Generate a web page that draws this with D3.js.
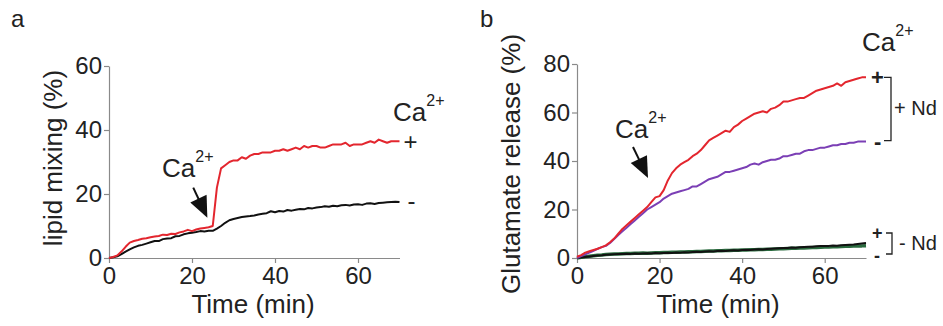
<!DOCTYPE html>
<html>
<head>
<meta charset="utf-8">
<script src="https://cdn.jsdelivr.net/npm/d3@7"></script>
<style>
  body { margin: 0; background: #fff; }
  svg { display: block; font-family: "Liberation Sans", Arial, sans-serif; }
  .axis path, .axis line { stroke: #8a8a8a; stroke-width: 1.2; }
  .axis text { fill: #222; font-size: 24px; }
  .lbl { fill: #222; }
</style>
</head>
<body>
<div id="chart"></div>
<script>
// sample times (min)
const timeMin = d3.range(0, 71);

const xTicks = [0, 20, 40, 60];
const yTicksA = [0, 20, 40, 60];
const yTicksB = [0, 20, 40, 60, 80];

// panel a: lipid mixing (%)
const lipidCaPlus = [
  0, 0.3, 0.8, 2, 3.5, 4.8, 5.3, 5.6, 6, 6.2,
  6.5, 6.7, 6.9, 7.3, 7.2, 7.6, 7.5, 8, 8.3, 8.8,
  8.4, 8.9, 9.2, 9.4, 9.6, 10, 22, 28, 29, 30,
  30.5, 30.5, 31.5, 31, 32, 32.5, 32.5, 33, 33, 33,
  33.5, 33.5, 34, 33.5, 34, 34.5, 34, 35, 34.5, 35,
  35, 34.5, 34.5, 35, 35.5, 35.5, 35.5, 36, 35, 35.5,
  35.5, 35.5, 36, 36.5, 36, 37, 36.5, 36, 36.5, 36.5,
  36.5
];
const lipidCaMinus = [
  0, 0.2, 0.5, 1.2, 2, 2.7, 3.3, 3.8, 4.1, 4.5,
  4.9, 5.3, 5.3, 5.9, 6.1, 6.2, 6.8, 6.9, 7.4, 7.7,
  7.9, 8.1, 8.4, 8.3, 8.5, 8.5, 9.2, 10, 11, 11.8,
  12.2, 12.5, 12.8, 13, 13.1, 13.3, 13.6, 13.8, 14, 14.6,
  14.3, 14.7, 14.5, 15, 14.8, 15.1, 15.3, 15.2, 15.6, 15.5,
  15.8, 15.9, 16.2, 16, 16.3, 16.2, 16.5, 16.6, 16.4, 16.7,
  16.8, 16.6, 17, 17.1, 16.9, 17.2, 17.3, 17.4, 17.5, 17.6,
  17.5
];

// panel b: glutamate release (%)
const gluNdCaPlus = [
  0.5, 1.2, 2.2, 2.8, 3.3, 3.8, 4.5, 5.2, 6.5, 8,
  10, 12, 13.5, 15, 16.5, 18, 19.5, 21, 23, 25,
  25.5, 28, 32, 35, 37, 38.5, 39.5, 40.5, 42, 43,
  44.5, 46.5, 48.5, 49.5, 50.5, 51.5, 52.5, 52, 54, 55,
  56.5, 57.5, 58.5, 59.5, 60, 60.5, 60, 61.5, 62, 63,
  64.5, 64.5, 65, 65.5, 66, 66, 67, 68, 69, 69.5,
  70, 70.5, 71, 72, 71, 72.5, 73, 73.5, 74, 74.5,
  74.5
];
const gluNdCaMinus = [
  0, 0.8, 1.5, 2.2, 3, 3.8, 4.5, 5, 6.2, 7.8,
  9.5, 11, 12.5, 14, 15.5, 17, 18.5, 20, 21, 22,
  23, 24.5, 25.5, 26.5, 27, 27.5, 28, 28.5, 29.5, 29.5,
  30.5, 31.5, 32.5, 33, 33.5, 34.5, 35.5, 35.5, 36, 36.5,
  37, 37.5, 38.5, 39, 38.5, 39.5, 40, 40.5, 40.5, 41,
  42, 42, 42.5, 43, 43, 44, 44.5, 44.5, 45, 45.5,
  45.5, 46, 46.5, 46.5, 47, 47, 47.5, 47.5, 48, 48,
  48
];
const gluNoNdCaPlus = [
  0, 0.2, 0.4, 0.6, 0.8, 1, 1.1, 1.3, 1.4, 1.5,
  1.6, 1.7, 1.8, 1.7, 1.9, 1.8, 1.9, 2, 1.9, 2.1,
  2, 2.1, 2.2, 2.1, 2.3, 2.2, 2.4, 2.3, 2.5, 2.6,
  2.5, 2.7, 2.8, 2.7, 2.9, 3, 2.9, 3.1, 3.2, 3.1,
  3.3, 3.4, 3.3, 3.5, 3.6, 3.5, 3.7, 3.8, 3.9, 4,
  4.1, 4.1, 4.3, 4.2, 4.4, 4.5, 4.6, 4.6, 4.8, 4.9,
  5, 5, 5.2, 5.1, 5.3, 5.4, 5.5, 5.6, 5.8, 6,
  6.2
];
const gluNoNdCaMinus = [
  0, 0.3, 0.5, 0.7, 0.9, 1.1, 1.2, 1.4, 1.5, 1.6,
  1.7, 1.8, 1.9, 1.9, 2, 2, 2.1, 2, 2.1, 2.2,
  2.2, 2.3, 2.3, 2.4, 2.4, 2.5, 2.5, 2.6, 2.6, 2.7,
  2.7, 2.8, 2.9, 2.9, 3, 3, 3.1, 3.1, 3.2, 3.2,
  3.3, 3.3, 3.4, 3.4, 3.5, 3.5, 3.6, 3.6, 3.7, 3.8,
  3.8, 3.9, 4, 4, 4.1, 4.1, 4.2, 4.3, 4.3, 4.4,
  4.5, 4.5, 4.6, 4.6, 4.7, 4.8, 4.8, 4.9, 5, 5,
  5.1
];

const svg = d3.select('#chart').append('svg')
  .attr('width', 943)
  .attr('height', 326);

function drawPanel(cfg) {
  const g = svg.append('g');
  const x = d3.scaleLinear().domain([0, 70]).range([cfg.left, cfg.right]);
  const y = d3.scaleLinear().domain([0, cfg.yMax]).range([258, cfg.top]);

  g.append('g').attr('class', 'axis')
    .attr('transform', 'translate(0,' + y(0) + ')')
    .call(d3.axisBottom(x).tickValues(xTicks).tickSize(5).tickSizeOuter(0).tickPadding(4));
  g.append('g').attr('class', 'axis')
    .attr('transform', 'translate(' + x(0) + ',0)')
    .call(d3.axisLeft(y).tickValues(cfg.yTicks).tickSize(5).tickSizeOuter(0).tickPadding(2));

  const line = d3.line().x((d, i) => x(timeMin[i])).y(d => y(d));
  cfg.series.forEach(s => {
    g.append('path')
      .datum(s.values)
      .attr('fill', 'none')
      .attr('stroke', s.color)
      .attr('stroke-width', s.width || 2)
      .attr('stroke-linejoin', 'round')
      .attr('d', line);
  });

  // axis titles
  g.append('text').attr('class', 'lbl')
    .attr('x', cfg.timeX).attr('y', 313)
    .attr('text-anchor', 'middle').attr('font-size', 26)
    .text('Time (min)');
  g.append('text').attr('class', 'lbl')
    .attr('transform', 'translate(' + cfg.titleX + ',' + cfg.titleY + ') rotate(-90)')
    .attr('text-anchor', 'middle').attr('font-size', 26)
    .text(cfg.yTitle);

  // panel letter
  g.append('text').attr('class', 'lbl')
    .attr('x', cfg.letterX).attr('y', 27).attr('font-size', 24)
    .text(cfg.letter);

  return {g, x, y};
}

function caLabel(g, x0, y0) {
  const t = g.append('text').attr('class', 'lbl').attr('x', x0).attr('y', y0).attr('font-size', 26);
  t.append('tspan').text('Ca');
  t.append('tspan').attr('font-size', 16).attr('dy', -15).text('2+');
}

function arrow(g, x1, y1, x2, y2) {
  const dx = x2 - x1, dy = y2 - y1, len = Math.hypot(dx, dy);
  const ux = dx / len, uy = dy / len;
  const hl = 21, hw = 9;
  const bx = x2 - ux * hl, by = y2 - uy * hl;
  g.append('line')
    .attr('x1', x1).attr('y1', y1).attr('x2', bx + ux * 2).attr('y2', by + uy * 2)
    .attr('stroke', '#111').attr('stroke-width', 2);
  g.append('path')
    .attr('d', 'M' + x2 + ',' + y2 + 'L' + (bx - uy * hw) + ',' + (by + ux * hw) +
      'L' + (bx + uy * hw) + ',' + (by - ux * hw) + 'Z')
    .attr('fill', '#111');
}

// ---- panel a
const pa = drawPanel({
  left: 109, right: 399.5, top: 66, yMax: 60, yTicks: yTicksA,
  yTitle: 'lipid mixing (%)', titleX: 62, titleY: 158, timeX: 253,
  letter: 'a', letterX: 11,
  series: [
    {values: lipidCaMinus, color: '#111'},
    {values: lipidCaPlus, color: '#e3262e'}
  ]
});
caLabel(pa.g, 162, 177);
arrow(pa.g, pa.x(20.3), pa.y(22), pa.x(23.7), pa.y(12.6));
caLabel(pa.g, 393, 121);
pa.g.append('text').attr('class', 'lbl').attr('font-size', 24)
  .attr('x', pa.x(70) + 4).attr('y', pa.y(lipidCaPlus[70]) + 9).text('+');
pa.g.append('text').attr('class', 'lbl').attr('font-size', 24)
  .attr('x', pa.x(70) + 8).attr('y', pa.y(lipidCaMinus[70]) + 7).text('-');

// ---- panel b
const pb = drawPanel({
  left: 577, right: 866, top: 64, yMax: 80, yTicks: yTicksB,
  yTitle: 'Glutamate release (%)', titleX: 520, titleY: 164, timeX: 718,
  letter: 'b', letterX: 480,
  series: [
    {values: gluNoNdCaMinus, color: '#2b6b3f', width: 3.5},
    {values: gluNoNdCaPlus, color: '#111', width: 2},
    {values: gluNdCaMinus, color: '#7b3fb5'},
    {values: gluNdCaPlus, color: '#e3262e'}
  ]
});
caLabel(pb.g, 615, 138);
arrow(pb.g, 633, 147, 648, 178);
caLabel(pb.g, 862, 51);

const yPlus = pb.y(gluNdCaPlus[70]), yMinus = pb.y(gluNdCaMinus[70]);
pb.g.append('text').attr('class', 'lbl').attr('font-size', 22).attr('font-weight', 'bold')
  .attr('x', 871).attr('y', yPlus + 8).text('+');
pb.g.append('text').attr('class', 'lbl').attr('font-size', 22).attr('font-weight', 'bold')
  .attr('x', 874).attr('y', yMinus + 7).text('-');
pb.g.append('path')
  .attr('d', 'M884,' + yPlus + 'H891V' + (yMinus - 1) + 'H884')
  .attr('fill', 'none').attr('stroke', '#222').attr('stroke-width', 1.3);
pb.g.append('text').attr('class', 'lbl').attr('font-size', 20)
  .attr('x', 894).attr('y', (yPlus + yMinus) / 2 + 6).text('+ Nd');

// stacked +/- for the no-Nd pair
pb.g.append('text').attr('class', 'lbl').attr('font-size', 18).attr('font-weight', 'bold')
  .attr('x', 872).attr('y', 239).text('+');
pb.g.append('text').attr('class', 'lbl').attr('font-size', 18).attr('font-weight', 'bold')
  .attr('x', 874).attr('y', 262).text('-');
pb.g.append('path')
  .attr('d', 'M886,233H892V254H886')
  .attr('fill', 'none').attr('stroke', '#222').attr('stroke-width', 1.3);
pb.g.append('text').attr('class', 'lbl').attr('font-size', 20)
  .attr('x', 899).attr('y', 250).text('- Nd');
</script>
</body>
</html>
